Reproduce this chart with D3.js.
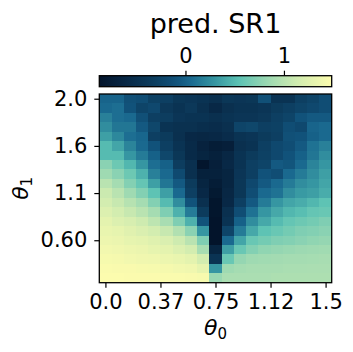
<!DOCTYPE html>
<html>
<head>
<meta charset="utf-8">
<script src="https://cdn.jsdelivr.net/npm/d3@7"></script>
<style>
  body { margin: 0; background: #ffffff; }
  svg { display: block; font-family: "DejaVu Sans", sans-serif; }
</style>
</head>
<body>
<div id="chart"></div>
<script>
// Predicted SR1 over a theta0 x theta1 grid (rows top -> bottom, theta1 decreasing).
const srValues = [
  [0.02, 0.02, -0.12, -0.15, -0.28, -0.3, -0.4, -0.42, -0.45, -0.5, -0.4, -0.42, -0.4, -0.12, -0.45, -0.45, -0.3, -0.25, -0.15],
  [0.05, 0.08, -0.1, -0.25, -0.2, -0.38, -0.45, -0.38, -0.5, -0.6, -0.5, -0.45, -0.45, -0.42, -0.35, -0.3, -0.25, -0.2, -0.15],
  [0.18, 0.08, 0.05, -0.12, -0.3, -0.32, -0.42, -0.45, -0.45, -0.5, -0.45, -0.42, -0.42, -0.38, -0.3, -0.25, -0.1, -0.05, -0.05],
  [0.25, 0.12, 0.12, -0.05, -0.22, -0.45, -0.48, -0.48, -0.52, -0.55, -0.5, -0.25, -0.22, -0.3, -0.28, -0.15, -0.2, 0.02, 0.05],
  [0.35, 0.22, 0.08, 0.03, -0.3, -0.35, -0.5, -0.6, -0.62, -0.6, -0.55, -0.45, -0.42, -0.35, -0.3, -0.12, -0.1, 0.0, 0.05],
  [0.5, 0.38, 0.2, 0.05, -0.1, -0.3, -0.45, -0.58, -0.68, -0.75, -0.72, -0.5, -0.45, -0.3, -0.2, -0.15, -0.05, 0.1, 0.18],
  [0.5, 0.5, 0.3, 0.15, 0.0, -0.22, -0.4, -0.58, -0.65, -0.7, -0.62, -0.45, -0.35, -0.28, -0.2, -0.1, 0.0, 0.12, 0.25],
  [0.75, 0.62, 0.48, 0.3, 0.08, 0.0, -0.32, -0.5, -0.85, -0.72, -0.6, -0.45, -0.3, -0.25, -0.05, -0.08, 0.05, 0.2, 0.3],
  [0.85, 0.75, 0.62, 0.45, 0.18, 0.05, -0.18, -0.5, -0.7, -0.7, -0.65, -0.42, -0.3, -0.1, -0.15, 0.05, 0.15, 0.25, 0.35],
  [1.0, 0.88, 0.72, 0.58, 0.35, 0.12, -0.05, -0.35, -0.65, -0.75, -0.65, -0.4, -0.2, -0.05, 0.05, 0.15, 0.25, 0.3, 0.38],
  [1.1, 1.0, 0.85, 0.72, 0.55, 0.35, 0.05, -0.3, -0.6, -0.8, -0.62, -0.4, -0.15, 0.05, 0.1, 0.25, 0.32, 0.35, 0.42],
  [1.15, 1.08, 0.98, 0.88, 0.72, 0.5, 0.25, -0.1, -0.5, -0.85, -0.6, -0.3, -0.05, 0.15, 0.3, 0.38, 0.42, 0.48, 0.55],
  [1.22, 1.15, 1.08, 1.0, 0.88, 0.7, 0.45, 0.15, -0.35, -0.85, -0.5, -0.15, 0.1, 0.3, 0.4, 0.48, 0.52, 0.58, 0.6],
  [1.28, 1.22, 1.18, 1.12, 1.02, 0.9, 0.7, 0.45, -0.1, -0.87, -0.45, 0.0, 0.25, 0.4, 0.5, 0.58, 0.62, 0.65, 0.7],
  [1.32, 1.3, 1.25, 1.2, 1.15, 1.08, 0.95, 0.75, 0.3, -0.87, -0.25, 0.15, 0.4, 0.55, 0.6, 0.65, 0.7, 0.72, 0.75],
  [1.36, 1.34, 1.3, 1.28, 1.24, 1.2, 1.12, 1.0, 0.7, -0.87, 0.05, 0.38, 0.6, 0.65, 0.7, 0.72, 0.75, 0.78, 0.8],
  [1.4, 1.38, 1.36, 1.34, 1.3, 1.28, 1.22, 1.15, 0.9, -0.65, 0.35, 0.6, 0.72, 0.78, 0.8, 0.82, 0.84, 0.85, 0.86],
  [1.43, 1.42, 1.4, 1.38, 1.37, 1.35, 1.32, 1.28, 1.15, -0.45, 0.6, 0.8, 0.85, 0.86, 0.87, 0.88, 0.88, 0.89, 0.9],
  [1.46, 1.45, 1.45, 1.44, 1.43, 1.42, 1.4, 1.38, 1.3, 0.3, 0.85, 0.88, 0.9, 0.9, 0.9, 0.91, 0.91, 0.92, 0.92],
  [1.48, 1.48, 1.47, 1.47, 1.47, 1.46, 1.46, 1.45, 1.44, 0.82, 0.92, 0.92, 0.92, 0.92, 0.93, 0.93, 0.93, 0.93, 0.93]
];

const xTickIndex = [0, 4.5, 9, 13.5, 18];
const xTickLabels = ["0.0", "0.37", "0.75", "1.12", "1.5"];
const yTickIndex = [0, 5, 10, 15];
const yTickLabels = ["2.0", "1.6", "1.1", "0.60"];
const colorbarTicks = [0, 1];
const valueRange = [-0.875, 1.485];

const WIDTH = 353, HEIGHT = 352;
const plot = { left: 99.3, right: 331.7, top: 94, bottom: 282.7 };
const bar = { top: 75.7, bottom: 86.7 };

const nRows = srValues.length;
const nCols = srValues[0].length;

const svg = d3.select("#chart")
  .append("svg")
  .attr("width", WIDTH)
  .attr("height", HEIGHT);

// Colour ramp: dark navy -> blue -> teal -> pale green -> yellow.
const rampStops = [0, 0.115, 0.22, 0.33, 0.39, 0.5, 0.6, 0.73, 0.86, 1];
const rampColors = ["#03142b", "#082846", "#0c3a5b", "#11527a", "#19688f",
                    "#3797a2", "#5cc2b4", "#9fdab2", "#d4edb0", "#fdfcae"];
const toUnit = d3.scaleLinear().domain(valueRange).clamp(true);
const ramp = d3.scaleLinear().domain(rampStops).range(rampColors).interpolate(d3.interpolateRgb);
const color = v => ramp(toUnit(v));

const x = d3.scaleBand().domain(d3.range(nCols)).range([plot.left, plot.right]);
const y = d3.scaleBand().domain(d3.range(nRows)).range([plot.top, plot.bottom]);

// Index scales put ticks on cell centres like imshow.
const xIdx = d3.scaleLinear().domain([-0.5, nCols - 0.5]).range([plot.left, plot.right]);
const yIdx = d3.scaleLinear().domain([-0.5, nRows - 0.5]).range([plot.top, plot.bottom]);

const cells = srValues.flatMap((row, r) => row.map((v, c) => ({ r, c, v })));

svg.append("g")
  .selectAll("rect")
  .data(cells)
  .join("rect")
  .attr("x", d => x(d.c))
  .attr("y", d => y(d.r))
  .attr("width", x.bandwidth() + 0.4)
  .attr("height", y.bandwidth() + 0.4)
  .attr("fill", d => color(d.v))
  .attr("shape-rendering", "crispEdges");

svg.append("rect")
  .attr("x", plot.left)
  .attr("y", plot.top)
  .attr("width", plot.right - plot.left)
  .attr("height", plot.bottom - plot.top)
  .attr("fill", "none")
  .attr("stroke", "#000")
  .attr("stroke-width", 1.3);

const styleAxis = g => {
  g.select(".domain").remove();
  g.selectAll(".tick line").attr("stroke", "#000").attr("stroke-width", 1.2);
  g.selectAll(".tick text").attr("fill", "#000").style("font-size", "21px")
    .style("font-family", "'DejaVu Sans', sans-serif");
};

svg.append("g")
  .attr("transform", `translate(0,${plot.bottom})`)
  .call(d3.axisBottom(xIdx).tickValues(xTickIndex).tickSize(5).tickPadding(6)
    .tickFormat((d, i) => xTickLabels[i]))
  .call(styleAxis);

svg.append("g")
  .attr("transform", `translate(${plot.left},0)`)
  .call(d3.axisLeft(yIdx).tickValues(yTickIndex).tickSize(5).tickPadding(7)
    .tickFormat((d, i) => yTickLabels[i]))
  .call(styleAxis);

// Colorbar on top with its own ticks.
const cbX = d3.scaleLinear().domain(valueRange).range([plot.left, plot.right]);
const grad = svg.append("defs").append("linearGradient").attr("id", "cb");
d3.range(0, 1.0001, 0.05).forEach(t => {
  grad.append("stop").attr("offset", t).attr("stop-color", ramp(t));
});

svg.append("rect")
  .attr("x", plot.left)
  .attr("y", bar.top)
  .attr("width", plot.right - plot.left)
  .attr("height", bar.bottom - bar.top)
  .attr("fill", "url(#cb)")
  .attr("stroke", "#000")
  .attr("stroke-width", 1.3);

svg.append("g")
  .attr("transform", `translate(0,${bar.top})`)
  .call(d3.axisTop(cbX).tickValues(colorbarTicks).tickSize(5).tickPadding(8)
    .tickFormat(d3.format("d")))
  .call(styleAxis);

svg.append("text")
  .attr("x", (plot.left + plot.right) / 2)
  .attr("y", 33)
  .attr("text-anchor", "middle")
  .style("font-size", "27px")
  .text("pred. SR1");

// Axis labels with italic theta and subscript index.
const thetaLabel = (sel, sub) => {
  sel.append("tspan").style("font-style", "italic").text("θ");
  sel.append("tspan").attr("dy", 4).style("font-size", "15px").text(sub);
};

svg.append("text")
  .attr("x", (plot.left + plot.right) / 2)
  .attr("y", 335)
  .attr("text-anchor", "middle")
  .style("font-size", "22px")
  .call(thetaLabel, "0");

svg.append("text")
  .attr("transform", `translate(28,${(plot.top + plot.bottom) / 2}) rotate(-90)`)
  .attr("text-anchor", "middle")
  .style("font-size", "22px")
  .call(thetaLabel, "1");
</script>
</body>
</html>
